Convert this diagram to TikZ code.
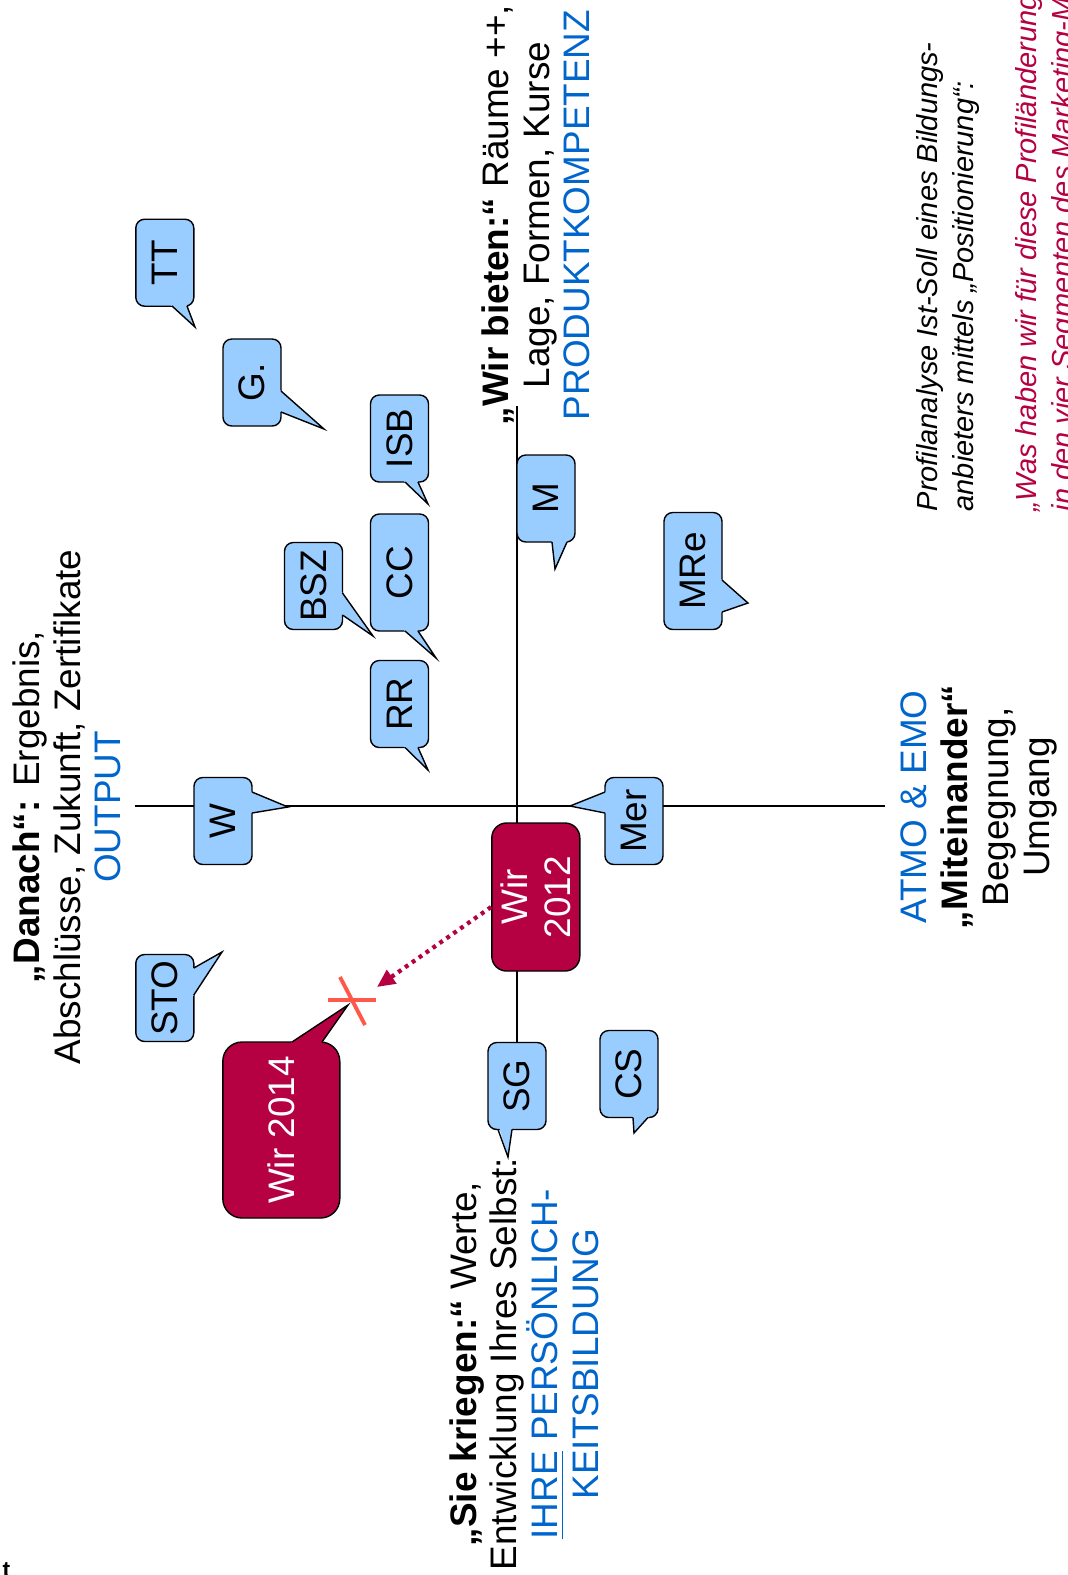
\documentclass[tikz,border=0pt]{standalone}
\usepackage{fontspec}
\setmainfont{Liberation Sans}
\usetikzlibrary{arrows.meta}
\definecolor{blasenblau}{RGB}{153,204,255}
\definecolor{weinrot}{RGB}{181,0,66}
\definecolor{textblau}{RGB}{0,102,204}
\definecolor{kreuzrot}{RGB}{255,87,72}

\begin{document}
\begin{tikzpicture}
    \tikzstyle{every node}+=[inner sep=0pt]
    \tikzstyle{blase}=[draw=black,fill=blasenblau,rounded corners=2.5pt,rotate=90,minimum width=0.87cm,minimum height=0.58cm,font=\fontsize{10.5}{12}\selectfont]
    \tikzstyle{wir}=[draw=black,fill=weinrot,text=white,rotate=90,align=center,font=\fontsize{10.5}{12}\selectfont]
    \tikzstyle{achsentext}=[rotate=90,align=center,font=\fontsize{10.5}{11.6}\selectfont]
    \tikzstyle{notiz}=[rotate=90,align=left,anchor=north west,font=\fontsize{8.25}{10.2}\selectfont\itshape]
    \useasboundingbox (0,0) rectangle (10.67,-15.75);
    % Achsen
    \coordinate (oben) at (5.17,-4.06);
    \coordinate (unten) at (5.17,-10.45);
    \coordinate (links) at (1.35,-8.06);
    \coordinate (rechts) at (8.85,-8.06);
    \draw [black] (oben) -- (unten);
    \draw [black] (links) -- (rechts);
    % Sprechblasen
    \node [blase] (tt) at (1.648,-2.627) {TT};
    \fill [blasenblau] (1.697,-3.039) -- (1.95,-3.27) -- (1.862,-3.039) -- cycle;
    \draw [black] (1.72,-3.06) -- (1.95,-3.27) -- (1.87,-3.06);
    \node [blase] (g) at (2.52,-3.825) {G.};
    \fill [blasenblau] (2.767,-3.872) -- (3.24,-4.29) -- (2.767,-4.103) -- cycle;
    \draw [black] (2.81,-3.91) -- (3.24,-4.29) -- (2.81,-4.12);
    \node [blase] (isb) at (3.995,-4.385) {ISB};
    \fill [blasenblau] (4.027,-4.798) -- (4.28,-5.04) -- (4.17,-4.798) -- cycle;
    \draw [black] (4.05,-4.82) -- (4.28,-5.04) -- (4.18,-4.82);
    \node [blase] (bsz) at (3.135,-5.86) {BSZ};
    \fill [blasenblau] (3.395,-5.887) -- (3.73,-6.36) -- (3.395,-6.129) -- cycle;
    \draw [black] (3.425,-5.93) -- (3.73,-6.36) -- (3.425,-6.15);
    \node [blase, minimum width=1.17cm] (cc) at (3.995,-5.725) {CC};
    \fill [blasenblau] (4.019,-6.283) -- (4.36,-6.58) -- (4.162,-6.283) -- cycle;
    \draw [black] (4.05,-6.31) -- (4.36,-6.58) -- (4.18,-6.31);
    \node [blase] (rr) at (3.995,-7.04) {RR};
    \fill [blasenblau] (4.027,-7.453) -- (4.28,-7.70) -- (4.17,-7.453) -- cycle;
    \draw [black] (4.05,-7.475) -- (4.28,-7.70) -- (4.18,-7.475);
    \node [blase] (m) at (5.46,-4.985) {M};
    \fill [blasenblau] (5.517,-5.393) -- (5.55,-5.69) -- (5.682,-5.393) -- cycle;
    \draw [black] (5.52,-5.42) -- (5.55,-5.69) -- (5.67,-5.42);
    \node [blase, minimum width=1.17cm] (mre) at (6.93,-5.71) {MRe};
    \fill [blasenblau] (7.194,-5.777) -- (7.48,-6.03) -- (7.194,-6.129) -- cycle;
    \draw [black] (7.22,-5.80) -- (7.48,-6.03) -- (7.22,-6.12);
    \node [blase] (w) at (2.23,-8.21) {W};
    \fill [blasenblau] (2.484,-7.905) -- (2.88,-8.07) -- (2.484,-8.136) -- cycle;
    \draw [black] (2.52,-7.92) -- (2.88,-8.07) -- (2.52,-8.13);
    \node [blase] (mer) at (6.34,-8.21) {Mer};
    \fill [blasenblau] (6.085,-7.906) -- (5.70,-8.06) -- (6.085,-8.137) -- cycle;
    \draw [black] (6.05,-7.92) -- (5.70,-8.06) -- (6.05,-8.13);
    \node [blase] (sto) at (1.648,-9.98) {STO};
    \fill [blasenblau] (1.91,-9.696) -- (2.22,-9.52) -- (1.91,-9.993) -- cycle;
    \draw [black] (1.938,-9.68) -- (2.22,-9.52) -- (1.938,-9.95);
    \node [blase] (sg) at (5.17,-10.86) {SG};
    \fill [blasenblau] (4.99,-11.268) -- (5.08,-11.57) -- (5.124,-11.268) -- cycle;
    \draw [black] (4.98,-11.295) -- (5.08,-11.57) -- (5.12,-11.295);
    \node [blase] (cs) at (6.29,-10.74) {CS};
    \fill [blasenblau] (6.329,-11.16) -- (6.34,-11.33) -- (6.494,-11.16) -- cycle;
    \draw [black] (6.33,-11.175) -- (6.34,-11.33) -- (6.48,-11.175);
    % Wir
    \node [wir, rounded corners=4.2pt, minimum width=1.48cm, minimum height=0.88cm] (wir12) at (5.358,-8.97) {Wir\\2012};
    \coordinate (kreuz) at (3.52,-10.00);
    \node [wir, rounded corners=5.5pt, minimum width=1.76cm, minimum height=1.17cm] (wir14) at (2.813,-11.30) {Wir 2014};
    \fill [weinrot] (2.864,-10.457) -- (3.48,-10.05) -- (3.194,-10.457) -- cycle;
    \draw [black] (2.92,-10.42) -- (3.48,-10.05) -- (3.22,-10.42);
    \draw [weinrot, line width=1.2pt, dash pattern=on 1.1pt off 1.3pt, -{Triangle[length=1.8mm,width=1.6mm]}] ([yshift=-1mm]wir12.north) -- ([xshift=2.5mm,yshift=1.3mm]kreuz);
    \draw [kreuzrot, line width=1.1pt] ([xshift=-2.4mm]kreuz) -- ([xshift=2.4mm]kreuz);
    \draw [kreuzrot, line width=1.1pt] ([xshift=-1.2mm,yshift=2.3mm]kreuz) -- ([xshift=1.3mm,yshift=-2.5mm]kreuz);
    % Texte
    \node [achsentext] (danach) at (0.67,-8.07) {\textbf{„Danach“:} Ergebnis,\\Abschlüsse, Zukunft, Zertifikate\\\textcolor{textblau}{OUTPUT}};
    \node [achsentext] (bieten) at (5.36,-2.15) {\textbf{„Wir bieten:“} Räume ++,\\Lage, Formen, Kurse\\\textcolor{textblau}{PRODUKTKOMPETENZ}};
    \node [achsentext] (kriegen) at (5.24,-13.64) {\textbf{„Sie kriegen:“} Werte,\\Entwicklung Ihres Selbst:\\\textcolor{textblau}{\underline{IHRE} PERSÖNLICH-}\\\textcolor{textblau}{KEITSBILDUNG}};
    \node [achsentext] (atmo) at (9.79,-8.07) {\textcolor{textblau}{ATMO \& EMO}\\\textbf{„Miteinander“}\\Begegnung,\\Umgang};
    \node [notiz] (profil) at (9.16,-5.12) {Profilanalyse Ist-Soll eines Bildungs-\\anbieters mittels „Positionierung“:};
    \node [notiz, text=weinrot] (frage) at (10.15,-5.12) {„Was haben wir für diese Profiländerung\\in den vier Segmenten des Marketing-Mix};
    \node [anchor=north west, font=\fontsize{6.5}{7}\selectfont\bfseries] (rest) at (0.02,-15.62) {t};
\end{tikzpicture}
\end{document}
